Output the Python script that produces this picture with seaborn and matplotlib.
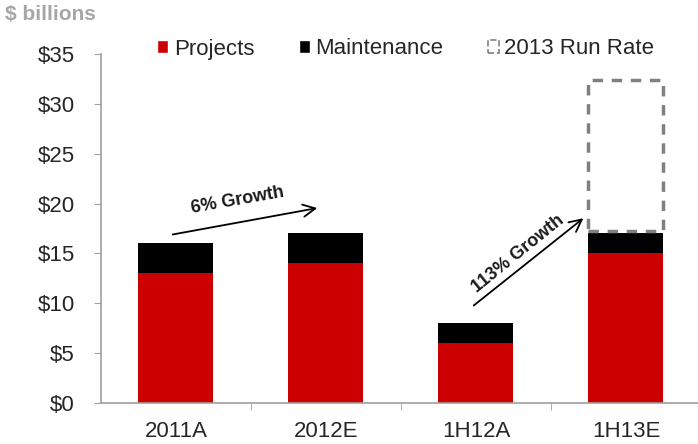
import matplotlib
matplotlib.use('Agg')
import matplotlib.pyplot as plt
from matplotlib.patches import Patch
import seaborn as sns
import pandas as pd

# Dados (US$ bilhões)
periods = ['2011A', '2012E', '1H12A', '1H13E']
projects = [13, 14, 6, 15]
maintenance = [3, 3, 2, 2]
run_rate_low = 17.2
run_rate_high = 32.4
y_ticks = [0, 5, 10, 15, 20, 25, 30, 35]

df = pd.DataFrame({'period': periods, 'projects': projects,
                   'maintenance': maintenance})
df['total'] = df['projects'] + df['maintenance']

sns.set_style('white')
plt.rcParams['font.family'] = ['Liberation Sans', 'DejaVu Sans']

fig = plt.figure(figsize=(6.98, 4.44), dpi=100)
ax = fig.add_axes([101 / 698, 41 / 444, 600 / 698, 349 / 444])

red = '#cc0000'
sns.barplot(data=df, x='period', y='total', color='black', width=0.5,
            saturation=1, linewidth=0, ax=ax)
sns.barplot(data=df, x='period', y='projects', color=red, width=0.5,
            saturation=1, linewidth=0, ax=ax)

# caixa tracejada do run rate de 2013
ax.bar(periods.index('1H13E'), run_rate_high - run_rate_low, bottom=run_rate_low,
       width=0.5, fill=False, edgecolor='#808080', linestyle=(0, (3, 2.5)),
       linewidth=2.5)

ax.set_xlim(-0.5, 3.5)
ax.set_ylim(0, 35)
ax.set_yticks(y_ticks)
ax.set_yticklabels([f'${v}' for v in y_ticks], fontsize=16, color='#262626')
ax.set_xticks(range(len(periods)))
ax.set_xticklabels(periods, fontsize=16, color='#262626')
ax.set_xticks([0.5, 1.5, 2.5], minor=True)
ax.tick_params(axis='x', which='major', length=0, pad=13)
ax.tick_params(axis='x', which='minor', length=5, color='#a0a0a0', direction='out', bottom=True)
ax.tick_params(axis='y', length=5, color='#a0a0a0', direction='out', left=True, pad=14)
ax.set_xlabel('')
ax.set_ylabel('')
sns.despine(ax=ax)
for s in ['left', 'bottom']:
    ax.spines[s].set_color('#a0a0a0')
    ax.spines[s].set_linewidth(1.2)

# setas de crescimento
ax.annotate('', xy=(0.96, 19.6), xytext=(-0.04, 16.85),
            arrowprops=dict(arrowstyle='->', lw=1.3, color='black', mutation_scale=22))
ax.text(0.41, 20.3, '6% Growth', rotation=10, ha='center', va='center',
        fontsize=13, fontweight='bold', color='#1a1a1a')
ax.annotate('', xy=(2.73, 18.7), xytext=(1.97, 9.6),
            arrowprops=dict(arrowstyle='->', lw=1.3, color='black', mutation_scale=22))
ax.text(2.28, 15.0, '113% Growth', rotation=39, ha='center', va='center',
        fontsize=13, fontweight='bold', color='#1a1a1a')

fig.text(5 / 698, 1 - 15 / 444, '$ billions', fontsize=15, fontweight='bold',
         color='#a6a6a6', va='center', ha='left')

handles = [Patch(facecolor=red, label='Projects'),
           Patch(facecolor='black', label='Maintenance'),
           Patch(facecolor='none', edgecolor='#808080', linestyle='--',
                 linewidth=1.2, label='2013 Run Rate')]
fig.legend(handles=handles, loc='center left', bbox_to_anchor=(157 / 698, 1 - 49 / 444),
           ncol=3, frameon=False, fontsize=16, handlelength=0.5, handleheight=0.5,
           handletextpad=0.25, columnspacing=2.0, borderpad=0, borderaxespad=0)

fig.savefig('out.png', dpi=100)
